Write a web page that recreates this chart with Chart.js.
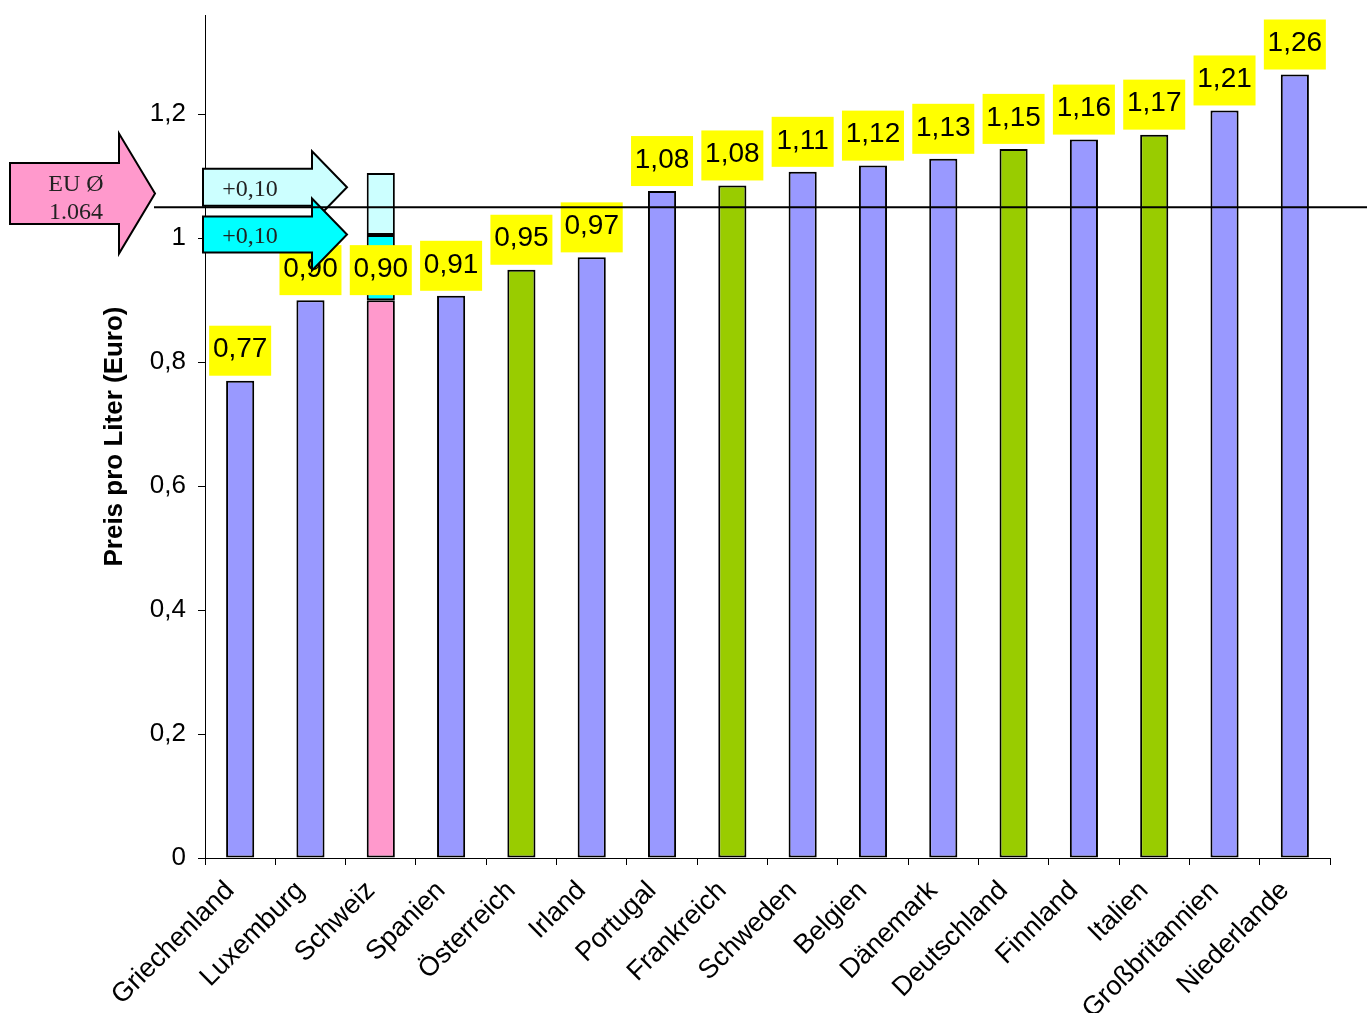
<!DOCTYPE html>
<html><head><meta charset="utf-8">
<script src="https://cdn.jsdelivr.net/npm/chart.js@4"></script>
<style>html,body{margin:0;padding:0;background:#fff;overflow:hidden}</style>
</head><body>
<canvas id="c" width="1367" height="1013"></canvas>
<script>
const countries = ['Griechenland','Luxemburg','Schweiz','Spanien','Österreich','Irland','Portugal','Frankreich','Schweden','Belgien','Dänemark','Deutschland','Finnland','Italien','Großbritannien','Niederlande'];
const prices = [0.77, 0.90, 0.90, 0.907, 0.949, 0.969, 1.076, 1.085, 1.107, 1.117, 1.128, 1.144, 1.159, 1.167, 1.206, 1.264];
const priceLabels = ['0,77','0,90','0,90','0,91','0,95','0,97','1,08','1,08','1,11','1,12','1,13','1,15','1,16','1,17','1,21','1,26'];
const barColors = ['#9999FF','#9999FF','#FF99CC','#9999FF','#99CC00','#9999FF','#9999FF','#99CC00','#9999FF','#9999FF','#9999FF','#99CC00','#9999FF','#99CC00','#9999FF','#9999FF'];
const swissStep1 = [null,null,0.105,null,null,null,null,null,null,null,null,null,null,null,null,null];
const swissStep2 = [null,null,0.10,null,null,null,null,null,null,null,null,null,null,null,null,null];
const euAverageLine = 1.05;
const euAverageText = ['EU Ø','1.064'];
const stepText = '+0,10';
const yTicks = [0, 0.2, 0.4, 0.6, 0.8, 1, 1.2];
const yMax = 1.36;

const SANS = '"Liberation Sans", Arial, sans-serif';
const SERIF = '"Liberation Serif", "Times New Roman", serif';

function drawArrow(ctx, x0, headX, tipX, cy, halfBody, halfHead, fill) {
  ctx.beginPath();
  ctx.moveTo(x0, cy - halfBody);
  ctx.lineTo(headX, cy - halfBody);
  ctx.lineTo(headX, cy - halfHead);
  ctx.lineTo(tipX, cy);
  ctx.lineTo(headX, cy + halfHead);
  ctx.lineTo(headX, cy + halfBody);
  ctx.lineTo(x0, cy + halfBody);
  ctx.closePath();
  ctx.fillStyle = fill;
  ctx.fill();
  ctx.lineWidth = 2;
  ctx.strokeStyle = '#000';
  ctx.lineJoin = 'miter';
  ctx.stroke();
}

const overlay = {
  id: 'overlay',
  afterDatasetsDraw(chart) {
    const ctx = chart.ctx;
    const ys = chart.scales.y;
    const meta = chart.getDatasetMeta(0);
    ctx.save();
    // value labels
    ctx.font = '28px ' + SANS;
    ctx.textAlign = 'center';
    ctx.textBaseline = 'middle';
    meta.data.forEach((bar, i) => {
      const top = ys.getPixelForValue(prices[i]);
      const bx = bar.x - 31, by = top - 5 - 50;
      ctx.fillStyle = '#FFFF00';
      ctx.fillRect(bx, by, 62, 50);
      ctx.fillStyle = '#000';
      ctx.fillText(priceLabels[i], bar.x, by + 24);
    });
    // arrows
    const pinkY = ys.getPixelForValue(1.072);
    drawArrow(ctx, 10, 119, 155, pinkY, 30.5, 60, '#FF99CC');
    ctx.font = '24px ' + SERIF;
    ctx.fillStyle = '#222';
    ctx.fillText(euAverageText[0], 76, pinkY - 9);
    ctx.fillText(euAverageText[1], 76, pinkY + 19);
    const lcY = ys.getPixelForValue(1.082);
    drawArrow(ctx, 203, 312, 347, lcY, 18.5, 36, '#CCFFFF');
    const dcY = ys.getPixelForValue(1.006);
    drawArrow(ctx, 203, 312, 347, dcY, 18, 36, '#00FFFF');
    ctx.fillStyle = '#222';
    ctx.fillText(stepText, 250, lcY + 2);
    ctx.fillText(stepText, 250, dcY + 2);
    // EU average line
    const ly = ys.getPixelForValue(euAverageLine);
    ctx.beginPath();
    ctx.moveTo(154, ly);
    ctx.lineTo(1367, ly);
    ctx.lineWidth = 2;
    ctx.strokeStyle = '#000';
    ctx.stroke();
    ctx.restore();
  }
};

new Chart(document.getElementById('c'), {
  type: 'bar',
  data: {
    labels: countries,
    datasets: [
      { data: prices, backgroundColor: barColors, borderColor: '#000', borderWidth: 2, borderSkipped: false },
      { data: swissStep1, backgroundColor: '#00FFFF', borderColor: '#000', borderWidth: 2, borderSkipped: false },
      { data: swissStep2, backgroundColor: '#CCFFFF', borderColor: '#000', borderWidth: 2, borderSkipped: false }
    ]
  },
  options: {
    responsive: false,
    animation: false,
    devicePixelRatio: 1,
    layout: { padding: { top: 15, right: 37, left: 0, bottom: 0 } },
    plugins: { legend: { display: false }, tooltip: { enabled: false } },
    datasets: { bar: { barPercentage: 0.4, categoryPercentage: 1.0 } },
    scales: {
      x: {
        stacked: true,
        grid: { display: true, drawOnChartArea: false, drawTicks: true, tickLength: 7, color: '#000', offset: true },
        border: { display: true, color: '#000', width: 1 },
        ticks: { autoSkip: false, minRotation: 45, maxRotation: 45, color: '#000', font: { family: SANS, size: 27 }, padding: 10, labelOffset: -10 },
        afterFit(s) { s.height = 155; s.paddingLeft = 0; s.paddingRight = 0; }
      },
      y: {
        stacked: true,
        min: 0,
        max: yMax,
        grid: { display: true, drawOnChartArea: false, drawTicks: true, tickLength: 7, color: '#000' },
        border: { display: true, color: '#000', width: 1 },
        ticks: { color: '#000', font: { family: SANS, size: 26 }, padding: 12,
          callback: v => String(v).replace('.', ',') },
        afterBuildTicks(s) { s.ticks = yTicks.map(v => ({ value: v })); },
        title: { display: true, text: 'Preis pro Liter (Euro)', color: '#000',
          font: { family: SANS, size: 26, weight: 'bold' }, padding: { top: 99, bottom: 0 } },
        afterFit(s) { s.width = 205; s.paddingTop = 0; s.paddingBottom = 0; }
      }
    }
  },
  plugins: [overlay]
});
</script>
</body></html>
